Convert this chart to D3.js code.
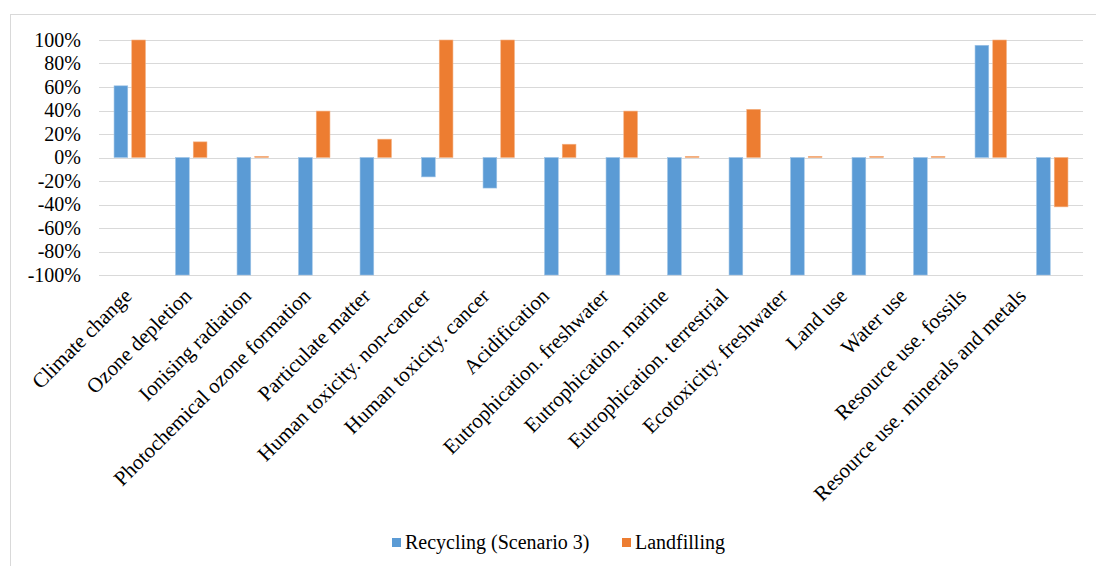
<!DOCTYPE html>
<html>
<head>
<meta charset="utf-8">
<script src="https://cdn.jsdelivr.net/npm/d3@7/dist/d3.min.js"></script>
<style>
  html, body { margin: 0; padding: 0; background: #fff; }
  svg { display: block; }
  text { font-family: "Liberation Serif", "Times New Roman", serif; fill: #000; }
</style>
</head>
<body>
<svg id="chart" width="1096" height="566"></svg>
<script>
// Impact categories (EF method) and relative results per scenario
const categories = [
  "Climate change",
  "Ozone depletion",
  "Ionising radiation",
  "Photochemical ozone formation",
  "Particulate matter",
  "Human toxicity. non-cancer",
  "Human toxicity. cancer",
  "Acidification",
  "Eutrophication. freshwater",
  "Eutrophication. marine",
  "Eutrophication. terrestrial",
  "Ecotoxicity. freshwater",
  "Land use",
  "Water use",
  "Resource use. fossils",
  "Resource use. minerals and metals"
];

const seriesNames = ["Recycling (Scenario 3)", "Landfilling"];

const recycling = [
  0.61, -1.00, -1.00, -1.00, -1.00, -0.165, -0.26, -1.00,
  -1.00, -1.00, -1.00, -1.00, -1.00, -1.00, 0.955, -1.00
];

const landfilling = [
  1.00, 0.133, 0.01, 0.395, 0.156, 1.00, 1.00, 0.113,
  0.395, 0.01, 0.41, 0.01, 0.01, 0.01, 1.00, -0.42
];

const yTickValues = [-1, -0.8, -0.6, -0.4, -0.2, 0, 0.2, 0.4, 0.6, 0.8, 1];

const colors = ["#5B9BD5", "#ED7D31"];
const strokeColors = ["#9DC3E6", "#F4B183"];

const serif = '"Liberation Serif", "Times New Roman", serif';
const svg = d3.select("#chart");

// outer chart border
svg.append("rect")
  .attr("x", 10.5).attr("y", 14.5)
  .attr("width", 1200).attr("height", 700)
  .attr("fill", "none")
  .attr("stroke", "#D9D9D9")
  .attr("stroke-width", 1);

const plot = { left: 99, right: 1083, top: 40, bottom: 275 };

const x = d3.scaleBand()
  .domain(categories)
  .range([plot.left, plot.right])
  .paddingInner(0)
  .paddingOuter(0);

const xSeries = d3.scaleBand()
  .domain(seriesNames)
  .range([0, x.bandwidth()])
  .paddingInner(0.226)
  .paddingOuter(0.85);

const y = d3.scaleLinear()
  .domain([-1, 1])
  .range([plot.bottom, plot.top]);

const pct = d3.formatLocale({ decimal: ".", thousands: ",", grouping: [3], currency: ["", ""], minus: "-" }).format(".0%");

// gridlines
svg.append("g")
  .selectAll("line")
  .data(yTickValues)
  .join("line")
  .attr("x1", plot.left)
  .attr("x2", plot.right)
  .attr("y1", d => Math.round(y(d)) + 0.5)
  .attr("y2", d => Math.round(y(d)) + 0.5)
  .attr("stroke", "#D9D9D9")
  .attr("stroke-width", 1);

// y axis labels
const yAxis = d3.axisLeft(y)
  .tickValues(yTickValues)
  .tickFormat(pct)
  .tickSize(0)
  .tickPadding(0);

const gy = svg.append("g")
  .attr("transform", `translate(${81},0)`)
  .call(yAxis)
  .attr("font-family", serif)
  .attr("font-size", 20);
gy.select(".domain").remove();
gy.selectAll("text")
  .attr("fill", "#000");

// bars
const rows = categories.map((c, i) => ({ cat: c, values: [recycling[i], landfilling[i]] }));

const groups = svg.append("g")
  .selectAll("g")
  .data(rows)
  .join("g")
  .attr("transform", d => `translate(${x(d.cat)},0)`);

groups.selectAll("rect")
  .data(d => d.values.map((v, k) => ({ key: seriesNames[k], k, v })))
  .join("rect")
  .attr("x", d => xSeries(d.key))
  .attr("width", xSeries.bandwidth())
  .attr("y", d => Math.min(y(d.v), y(0)))
  .attr("height", d => Math.abs(y(d.v) - y(0)))
  .attr("fill", d => colors[d.k])
  .attr("stroke", d => strokeColors[d.k])
  .attr("stroke-width", 0.6);

// category labels, rotated
const xLabel = d3.scalePoint()
  .domain(categories)
  .range([128, 1022]);

svg.append("g")
  .selectAll("text")
  .data(categories)
  .join("text")
  .attr("transform", d => `translate(${xLabel(d)},${292}) rotate(-45)`)
  .attr("text-anchor", "end")
  .attr("dy", "0.35em")
  .attr("font-family", serif)
  .attr("font-size", 21)
  .text(d => d);

// legend
const legendItems = [
  { name: seriesNames[0], color: colors[0], x: 392 },
  { name: seriesNames[1], color: colors[1], x: 622 }
];
const legend = svg.append("g");
legendItems.forEach(it => {
  legend.append("rect")
    .attr("x", it.x).attr("y", 538)
    .attr("width", 9).attr("height", 9)
    .attr("fill", it.color);
  legend.append("text")
    .attr("x", it.x + 13).attr("y", 549)
    .attr("font-family", serif)
    .attr("font-size", 20)
    .text(it.name);
});
</script>
</body>
</html>
